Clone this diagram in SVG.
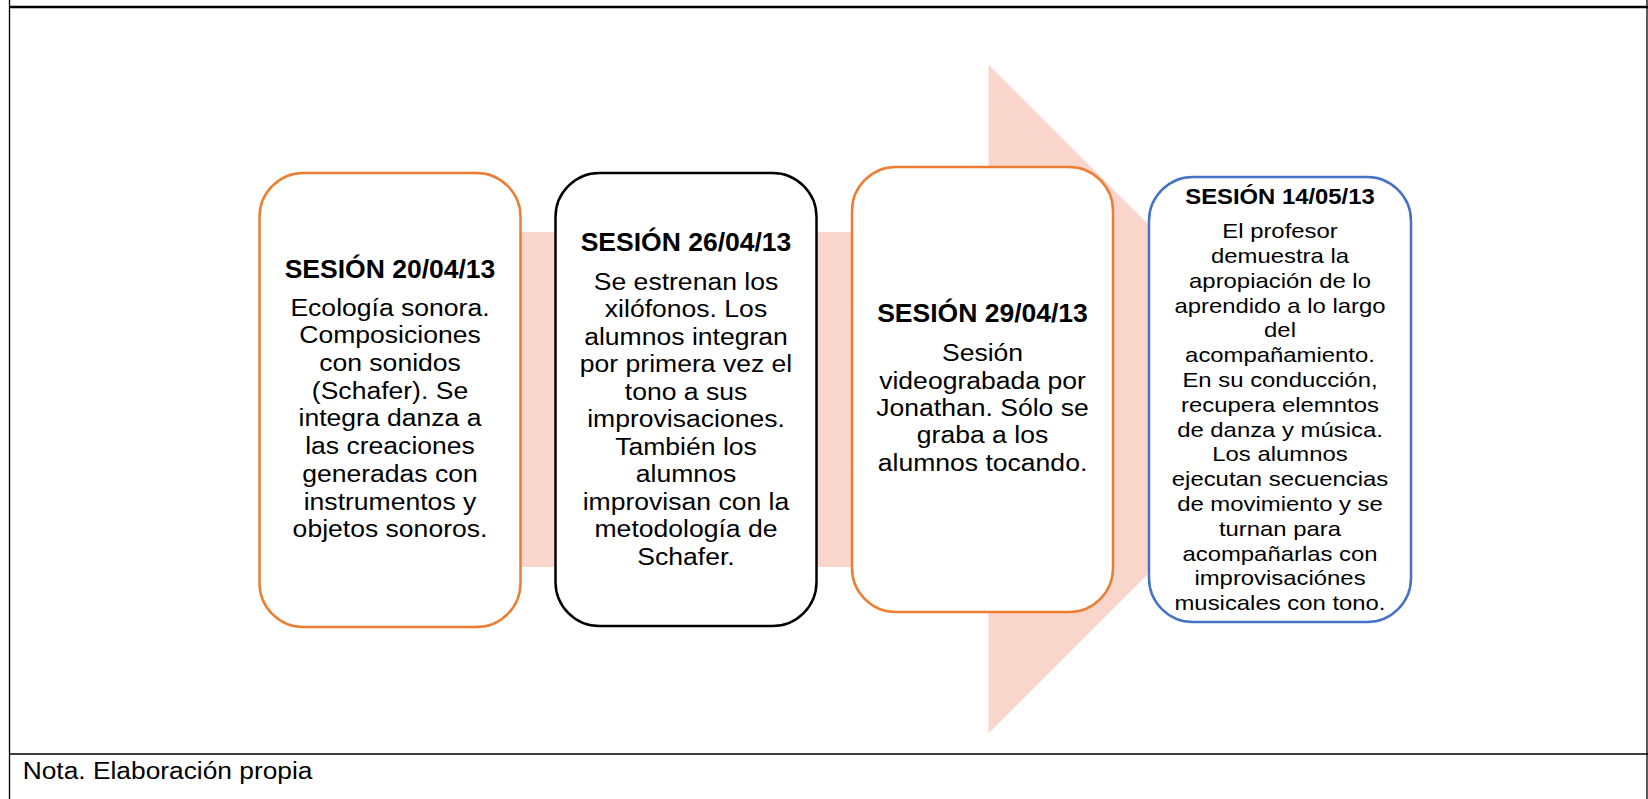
<svg xmlns="http://www.w3.org/2000/svg" width="1648" height="799" viewBox="0 0 1648 799">
<style>
.box{fill:#ffffff;stroke-width:2.5}
.t{font-family:"Liberation Sans",Arial,sans-serif;fill:#000;text-anchor:middle}
.h{font-weight:bold;font-size:25.5px}
.b{font-size:23.5px}
.h4{font-weight:bold;font-size:22.5px}
.b4{font-size:20.5px}
.frame{stroke:#000;fill:none}
</style>
<rect x="0" y="0" width="1648" height="799" fill="#ffffff"/>
<g id="frame">
<line class="frame" x1="9.5" y1="0" x2="9.5" y2="799" stroke-width="1.3"/>
<line class="frame" x1="1647" y1="0" x2="1647" y2="799" stroke-width="1.3"/>
<line class="frame" x1="9" y1="7" x2="1648" y2="7" stroke-width="2.4"/>
<line class="frame" x1="9" y1="754" x2="1648" y2="754" stroke-width="1.6"/>
<g transform="translate(22.7,779) scale(1.13,1)"><text class="t" style="text-anchor:start;font-size:23.3px" x="0" y="0">Nota. Elaboración propia</text></g>
</g>
<g id="connectors">
<polygon id="arrow" points="300,232 988.5,232 988.5,64.5 1323,399 988.5,733.5 988.5,567 300,567" fill="#F8D6CB"/>
</g>
<g id="node1">
<rect class="box" x="259.5" y="173" width="261" height="454" rx="44" stroke="#ED7D31"/>
<g transform="translate(390,0) scale(1.04,1)"><text class="t h" x="0" y="278">SESIÓN 20/04/13</text></g>
<g transform="translate(390,0) scale(1.13,1)">
<text class="t b" x="0" y="315.7">Ecología sonora.</text>
<text class="t b" x="0" y="343.4">Composiciones</text>
<text class="t b" x="0" y="371.1">con sonidos</text>
<text class="t b" x="0" y="398.8">(Schafer). Se</text>
<text class="t b" x="0" y="426.5">integra danza a</text>
<text class="t b" x="0" y="454.2">las creaciones</text>
<text class="t b" x="0" y="481.9">generadas con</text>
<text class="t b" x="0" y="509.6">instrumentos y</text>
<text class="t b" x="0" y="537.3">objetos sonoros.</text>
</g>
</g>
<g id="node2">
<rect class="box" x="555.5" y="173" width="261" height="453" rx="44" stroke="#000000"/>
<g transform="translate(686,0) scale(1.04,1)"><text class="t h" x="0" y="250.7">SESIÓN 26/04/13</text></g>
<g transform="translate(686,0) scale(1.13,1)">
<text class="t b" x="0" y="290">Se estrenan los</text>
<text class="t b" x="0" y="317.5">xilófonos. Los</text>
<text class="t b" x="0" y="345">alumnos integran</text>
<text class="t b" x="0" y="372.5">por primera vez el</text>
<text class="t b" x="0" y="400">tono a sus</text>
<text class="t b" x="0" y="427.5">improvisaciones.</text>
<text class="t b" x="0" y="455">También los</text>
<text class="t b" x="0" y="482.5">alumnos</text>
<text class="t b" x="0" y="510">improvisan con la</text>
<text class="t b" x="0" y="537.5">metodología de</text>
<text class="t b" x="0" y="565">Schafer.</text>
</g>
</g>
<g id="node3">
<rect class="box" x="852" y="167" width="261" height="445" rx="44" stroke="#ED7D31"/>
<g transform="translate(982.5,0) scale(1.04,1)"><text class="t h" x="0" y="322.4">SESIÓN 29/04/13</text></g>
<g transform="translate(982.5,0) scale(1.13,1)">
<text class="t b" x="0" y="361.5">Sesión</text>
<text class="t b" x="0" y="388.8">videograbada por</text>
<text class="t b" x="0" y="416.1">Jonathan. Sólo se</text>
<text class="t b" x="0" y="443.4">graba a los</text>
<text class="t b" x="0" y="470.7">alumnos tocando.</text>
</g>
</g>
<g id="node4">
<rect class="box" x="1149" y="177" width="262" height="445" rx="44" stroke="#4472C4"/>
<g transform="translate(1280,0) scale(1.06,1)"><text class="t h4" x="0" y="204">SESIÓN 14/05/13</text></g>
<g transform="translate(1280,0) scale(1.165,1)">
<text class="t b4" x="0" y="238.3">El profesor</text>
<text class="t b4" x="0" y="263.1">demuestra la</text>
<text class="t b4" x="0" y="287.9">apropiación de lo</text>
<text class="t b4" x="0" y="312.7">aprendido a lo largo</text>
<text class="t b4" x="0" y="337.5">del</text>
<text class="t b4" x="0" y="362.3">acompañamiento.</text>
<text class="t b4" x="0" y="387.1">En su conducción,</text>
<text class="t b4" x="0" y="411.9">recupera elemntos</text>
<text class="t b4" x="0" y="436.7">de danza y música.</text>
<text class="t b4" x="0" y="461.5">Los alumnos</text>
<text class="t b4" x="0" y="486.3">ejecutan secuencias</text>
<text class="t b4" x="0" y="511.1">de movimiento y se</text>
<text class="t b4" x="0" y="535.9">turnan para</text>
<text class="t b4" x="0" y="560.7">acompañarlas con</text>
<text class="t b4" x="0" y="585.5">improvisaciónes</text>
<text class="t b4" x="0" y="610.3">musicales con tono.</text>
</g>
</g>
</svg>
